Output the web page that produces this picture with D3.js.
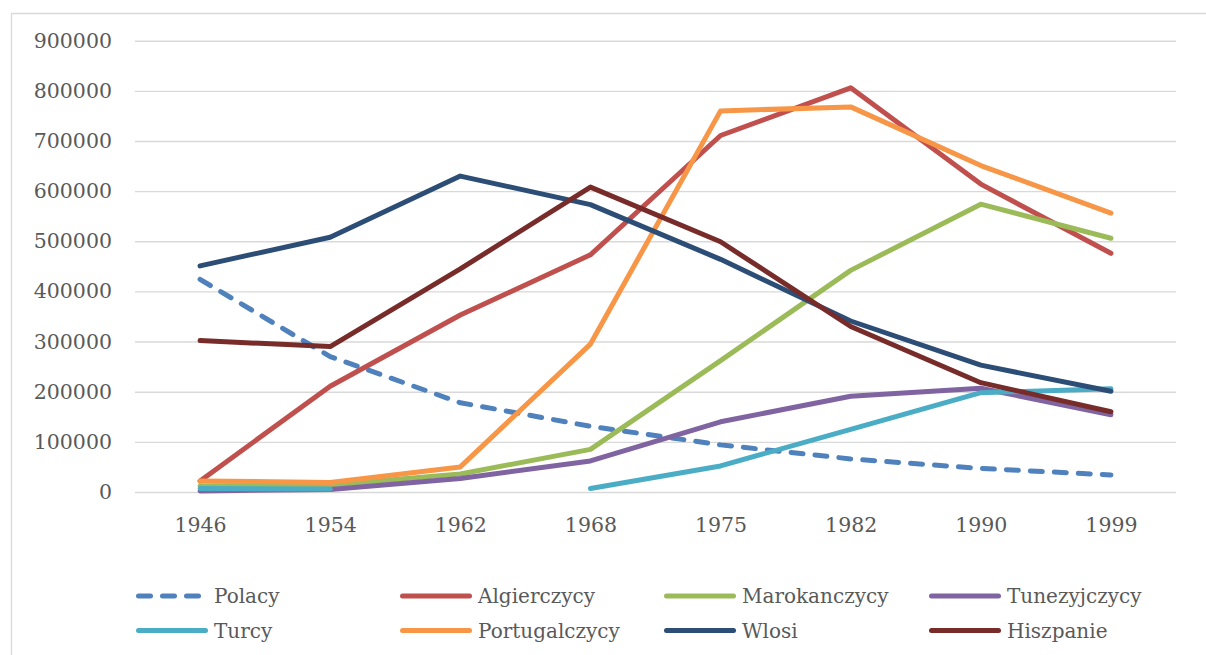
<!DOCTYPE html>
<html>
<head>
<meta charset="utf-8">
<script src="https://cdn.jsdelivr.net/npm/d3@7"></script>
<style>
  html, body { margin: 0; padding: 0; background: #fff; }
  svg { display: block; }
  svg text { font-family: "DejaVu Serif", "Liberation Serif", serif !important; fill: #595959; }
</style>
</head>
<body>
<svg id="chart" width="1206" height="655"></svg>
<script>
// ---- data ----
const years = ["1946", "1954", "1962", "1968", "1975", "1982", "1990", "1999"];
const yTicks = [0, 100000, 200000, 300000, 400000, 500000, 600000, 700000, 800000, 900000];

const seriesNames = ["Polacy", "Algierczycy", "Marokanczycy", "Tunezyjczycy",
                     "Turcy", "Portugalczycy", "Wlosi", "Hiszpanie"];

const polacy        = [424000, 270000, 178000, 131000, 94000, 66000, 47000, 34000];
const algierczycy   = [22000, 211000, 353000, 473000, 711000, 806000, 614000, 476000];
const marokanczycy  = [12000, 14000, 36000, 85000, 262000, 442000, 574000, 506000];
const tunezyjczycy  = [2000, 5000, 27000, 62000, 140000, 191000, 207000, 154000];
const turcy         = [7000, 6000, null, 7000, 52000, 125000, 198000, 206000];
const portugalczycy = [22000, 19000, 50000, 295000, 760000, 768000, 651000, 556000];
const wlosi         = [451000, 508000, 630000, 573000, 464000, 341000, 253000, 201000];
const hiszpanie     = [302000, 290000, 445000, 608000, 499000, 330000, 218000, 160000];

const seriesValues = [polacy, algierczycy, marokanczycy, tunezyjczycy,
                      turcy, portugalczycy, wlosi, hiszpanie];
const seriesColors = ["#4F81BD", "#C0504D", "#9BBB59", "#8064A2",
                      "#4BACC6", "#F79646", "#2C4D75", "#772C2A"];
const seriesDashed = [true, false, false, false, false, false, false, false];

// ---- layout ----
const svg = d3.select("#chart");
const plot = { left: 135, right: 1176, top: 40.7, bottom: 492 };
const FONT = "'DejaVu Serif', 'Liberation Serif', serif";

// outer chart border
svg.append("path")
  .attr("d", "M11.5,655 L11.5,13.5 L1206,13.5")
  .attr("fill", "none")
  .attr("stroke", "#D9D9D9")
  .attr("stroke-width", 1.3);

const x = d3.scalePoint().domain(years).range([plot.left, plot.right]).padding(0.5);
const y = d3.scaleLinear().domain([0, 900000]).range([plot.bottom, plot.top]);

// gridlines + y labels
const yAxis = d3.axisLeft(y).tickValues(yTicks).tickFormat(d3.format("d"))
  .tickSize(-(plot.right - plot.left)).tickPadding(23);
const gy = svg.append("g").attr("transform", `translate(${plot.left},0)`).call(yAxis);
gy.attr("font-family", FONT);
gy.select(".domain").remove();
gy.selectAll(".tick line").attr("stroke", "#D9D9D9").attr("stroke-width", 1.4);
gy.selectAll(".tick text").attr("font-size", 20.5).attr("fill", "#595959");

// x labels
const xAxis = d3.axisBottom(x).tickSize(0).tickPadding(25);
const gx = svg.append("g").attr("transform", `translate(0,${plot.bottom})`).call(xAxis);
gx.attr("font-family", FONT);
gx.select(".domain").remove();
gx.selectAll(".tick text").attr("font-size", 20.5).attr("fill", "#595959");

// lines
const line = d3.line()
  .defined(d => d.v !== null)
  .x(d => x(d.year))
  .y(d => y(d.v));

seriesNames.forEach((name, i) => {
  const data = years.map((yr, j) => ({ year: yr, v: seriesValues[i][j] }));
  svg.append("path")
    .datum(data)
    .attr("d", line)
    .attr("fill", "none")
    .attr("stroke", seriesColors[i])
    .attr("stroke-width", 5)
    .attr("stroke-linejoin", "round")
    .attr("stroke-linecap", "round")
    .attr("stroke-dasharray", seriesDashed[i] ? "12,12" : null);
});

// legend
const legendCols = [136, 400, 664, 929];
const legendRows = [596, 630.5];
seriesNames.forEach((name, i) => {
  const cx = legendCols[i % 4];
  const cy = legendRows[Math.floor(i / 4)];
  const g = svg.append("g");
  g.append("line")
    .attr("x1", cx + 2.5).attr("x2", cx + 69.5)
    .attr("y1", cy).attr("y2", cy)
    .attr("stroke", seriesColors[i])
    .attr("stroke-width", 5)
    .attr("stroke-linecap", "round")
    .attr("stroke-dasharray", seriesDashed[i] ? "12,12" : null);
  g.append("text")
    .attr("x", cx + 78).attr("y", cy)
    .attr("dy", "0.36em")
    .attr("font-family", FONT)
    .attr("font-size", 20)
    .text(name);
});
</script>
</body>
</html>
